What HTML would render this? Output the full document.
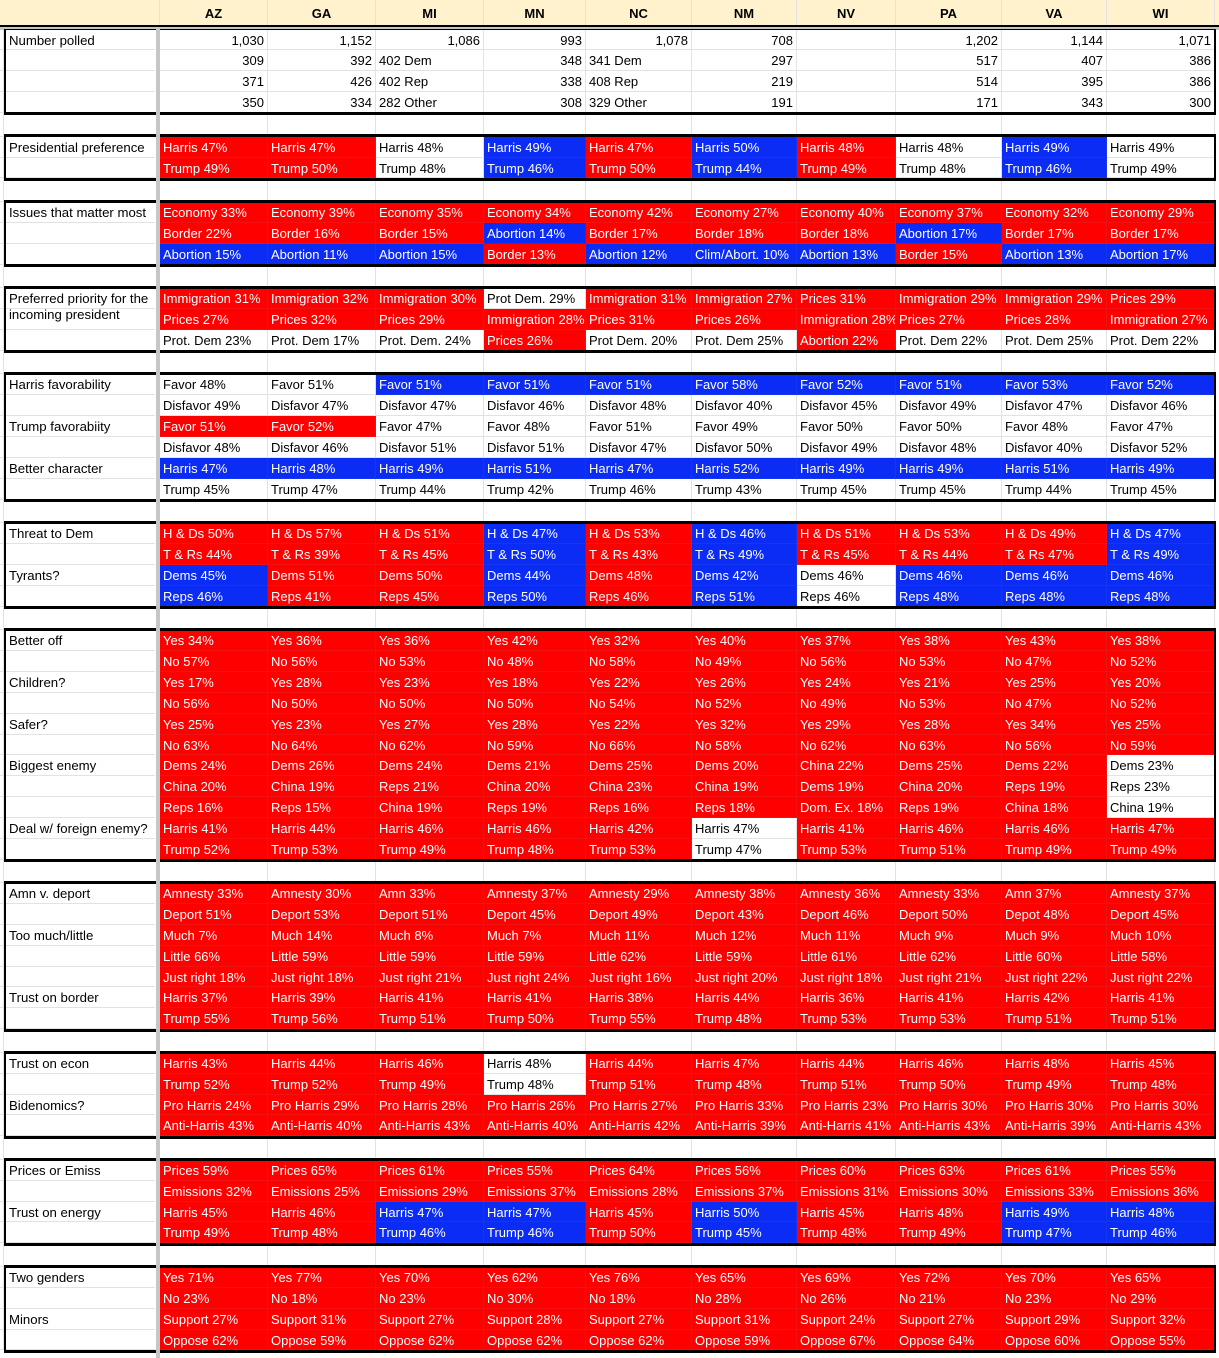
<!DOCTYPE html>
<html><head><meta charset="utf-8">
<style>
body{margin:0;width:1219px;height:1357px;overflow:hidden;background:#fff;font-family:"Liberation Sans",Arial,sans-serif;font-size:13px;color:#000;position:relative}
.row{display:flex;height:20.85px}
.bl{height:23.7px}
.row>c{display:block;box-sizing:border-box;flex:none;border-right:1px solid #e2e2e2;border-bottom:1px solid #e2e2e2;white-space:nowrap;overflow:hidden;padding-left:3px;line-height:21.5px;height:100%}
.row>c:nth-child(1){width:4px;padding:0}
.row>c:nth-child(2){width:151px;overflow:visible;border-right:none;padding-left:5px;font-size:13.2px}
.row>c:nth-child(3){width:5px;padding:0;border:none}
.row>c:nth-child(4),.row>c:nth-child(5),.row>c:nth-child(6),.row>c:nth-child(13){width:108px}
.row>c:nth-child(7){width:102px}
.row>c:nth-child(8),.row>c:nth-child(11){width:106px}
.row>c:nth-child(9),.row>c:nth-child(12){width:105px}
.row>c:nth-child(10){width:99px}
.row>c.r{background:#ff0000;color:#fff;border-color:#f21010}
.row>c.u{background:#0b2cf5;color:#fff;border-color:#1535f0}
.row>c.n{text-align:right;padding-right:3px}
.hd{display:flex;height:24.5px;background:#fff2cc}
.hd>c{display:block;box-sizing:border-box;flex:none;border-right:1px solid #e2e2e2;font-weight:bold;text-align:center;line-height:28px;font-size:13px}
.box{position:absolute;left:4px;width:1212px;box-sizing:border-box;border:3px solid #000;border-left-width:2.5px;border-right-width:2.5px}
</style></head><body>
<div class="hd"><c style="width:160px"></c><c style="width:108px">AZ</c><c style="width:108px">GA</c><c style="width:108px">MI</c><c style="width:102px">MN</c><c style="width:106px">NC</c><c style="width:105px">NM</c><c style="width:99px">NV</c><c style="width:106px">PA</c><c style="width:105px">VA</c><c style="width:108px">WI</c><c style="width:4px;border:none"></c></div>
<div style="height:2.5px;background:#000"></div>
<div style="height:2.6px;background:#c6c6c6"></div>

<div class="row"><c></c><c>Number polled</c><c></c><c class=n>1,030</c><c class=n>1,152</c><c class=n>1,086</c><c class=n>993</c><c class=n>1,078</c><c class=n>708</c><c></c><c class=n>1,202</c><c class=n>1,144</c><c class=n>1,071</c></div>
<div class="row"><c></c><c></c><c></c><c class=n>309</c><c class=n>392</c><c>402 Dem</c><c class=n>348</c><c>341 Dem</c><c class=n>297</c><c></c><c class=n>517</c><c class=n>407</c><c class=n>386</c></div>
<div class="row"><c></c><c></c><c></c><c class=n>371</c><c class=n>426</c><c>402 Rep</c><c class=n>338</c><c>408 Rep</c><c class=n>219</c><c></c><c class=n>514</c><c class=n>395</c><c class=n>386</c></div>
<div class="row"><c></c><c></c><c></c><c class=n>350</c><c class=n>334</c><c>282 Other</c><c class=n>308</c><c>329 Other</c><c class=n>191</c><c></c><c class=n>171</c><c class=n>343</c><c class=n>300</c></div>
<div class="row bl"><c></c><c></c><c></c><c></c><c></c><c></c><c></c><c></c><c></c><c></c><c></c><c></c><c></c></div>

<div class="row"><c></c><c>Presidential preference</c><c></c><c class=r>Harris 47%</c><c class=r>Harris 47%</c><c>Harris 48%</c><c class=u>Harris 49%</c><c class=r>Harris 47%</c><c class=u>Harris 50%</c><c class=r>Harris 48%</c><c>Harris 48%</c><c class=u>Harris 49%</c><c>Harris 49%</c></div>
<div class="row"><c></c><c></c><c></c><c class=r>Trump 49%</c><c class=r>Trump 50%</c><c>Trump 48%</c><c class=u>Trump 46%</c><c class=r>Trump 50%</c><c class=u>Trump 44%</c><c class=r>Trump 49%</c><c>Trump 48%</c><c class=u>Trump 46%</c><c>Trump 49%</c></div>
<div class="row bl"><c></c><c></c><c></c><c></c><c></c><c></c><c></c><c></c><c></c><c></c><c></c><c></c><c></c></div>

<div class="row"><c></c><c>Issues that matter most</c><c></c><c class=r>Economy 33%</c><c class=r>Economy 39%</c><c class=r>Economy 35%</c><c class=r>Economy 34%</c><c class=r>Economy 42%</c><c class=r>Economy 27%</c><c class=r>Economy 40%</c><c class=r>Economy 37%</c><c class=r>Economy 32%</c><c class=r>Economy 29%</c></div>
<div class="row"><c></c><c></c><c></c><c class=r>Border 22%</c><c class=r>Border 16%</c><c class=r>Border 15%</c><c class=u>Abortion 14%</c><c class=r>Border 17%</c><c class=r>Border 18%</c><c class=r>Border 18%</c><c class=u>Abortion 17%</c><c class=r>Border 17%</c><c class=r>Border 17%</c></div>
<div class="row"><c></c><c></c><c></c><c class=u>Abortion 15%</c><c class=u>Abortion 11%</c><c class=u>Abortion 15%</c><c class=r>Border 13%</c><c class=u>Abortion 12%</c><c class=u>Clim/Abort. 10%</c><c class=u>Abortion 13%</c><c class=r>Border 15%</c><c class=u>Abortion 13%</c><c class=u>Abortion 17%</c></div>
<div class="row bl"><c></c><c></c><c></c><c></c><c></c><c></c><c></c><c></c><c></c><c></c><c></c><c></c><c></c></div>

<div class="row"><c></c><c style="line-height:16px;white-space:normal;padding-top:3px">Preferred priority for the incoming president</c><c></c><c class=r>Immigration 31%</c><c class=r>Immigration 32%</c><c class=r>Immigration 30%</c><c>Prot Dem. 29%</c><c class=r>Immigration 31%</c><c class=r>Immigration 27%</c><c class=r>Prices 31%</c><c class=r>Immigration 29%</c><c class=r>Immigration 29%</c><c class=r>Prices 29%</c></div>
<div class="row"><c></c><c></c><c></c><c class=r>Prices 27%</c><c class=r>Prices 32%</c><c class=r>Prices 29%</c><c class=r>Immigration 28%</c><c class=r>Prices 31%</c><c class=r>Prices 26%</c><c class=r>Immigration 28%</c><c class=r>Prices 27%</c><c class=r>Prices 28%</c><c class=r>Immigration 27%</c></div>
<div class="row"><c></c><c></c><c></c><c>Prot. Dem 23%</c><c>Prot. Dem 17%</c><c>Prot. Dem. 24%</c><c class=r>Prices 26%</c><c>Prot Dem. 20%</c><c>Prot. Dem 25%</c><c class=r>Abortion 22%</c><c>Prot. Dem 22%</c><c>Prot. Dem 25%</c><c>Prot. Dem 22%</c></div>
<div class="row bl"><c></c><c></c><c></c><c></c><c></c><c></c><c></c><c></c><c></c><c></c><c></c><c></c><c></c></div>

<div class="row"><c></c><c>Harris favorability</c><c></c><c>Favor 48%</c><c>Favor 51%</c><c class=u>Favor 51%</c><c class=u>Favor 51%</c><c class=u>Favor 51%</c><c class=u>Favor 58%</c><c class=u>Favor 52%</c><c class=u>Favor 51%</c><c class=u>Favor 53%</c><c class=u>Favor 52%</c></div>
<div class="row"><c></c><c></c><c></c><c>Disfavor 49%</c><c>Disfavor 47%</c><c>Disfavor 47%</c><c>Disfavor 46%</c><c>Disfavor 48%</c><c>Disfavor 40%</c><c>Disfavor 45%</c><c>Disfavor 49%</c><c>Disfavor 47%</c><c>Disfavor 46%</c></div>
<div class="row"><c></c><c>Trump favorabiity</c><c></c><c class=r>Favor 51%</c><c class=r>Favor 52%</c><c>Favor 47%</c><c>Favor 48%</c><c>Favor 51%</c><c>Favor 49%</c><c>Favor 50%</c><c>Favor 50%</c><c>Favor 48%</c><c>Favor 47%</c></div>
<div class="row"><c></c><c></c><c></c><c>Disfavor 48%</c><c>Disfavor 46%</c><c>Disfavor 51%</c><c>Disfavor 51%</c><c>Disfavor 47%</c><c>Disfavor 50%</c><c>Disfavor 49%</c><c>Disfavor 48%</c><c>Disfavor 40%</c><c>Disfavor 52%</c></div>
<div class="row"><c></c><c>Better character</c><c></c><c class=u>Harris 47%</c><c class=u>Harris 48%</c><c class=u>Harris 49%</c><c class=u>Harris 51%</c><c class=u>Harris 47%</c><c class=u>Harris 52%</c><c class=u>Harris 49%</c><c class=u>Harris 49%</c><c class=u>Harris 51%</c><c class=u>Harris 49%</c></div>
<div class="row"><c></c><c></c><c></c><c>Trump 45%</c><c>Trump 47%</c><c>Trump 44%</c><c>Trump 42%</c><c>Trump 46%</c><c>Trump 43%</c><c>Trump 45%</c><c>Trump 45%</c><c>Trump 44%</c><c>Trump 45%</c></div>
<div class="row bl"><c></c><c></c><c></c><c></c><c></c><c></c><c></c><c></c><c></c><c></c><c></c><c></c><c></c></div>

<div class="row"><c></c><c>Threat to Dem</c><c></c><c class=r>H &amp; Ds 50%</c><c class=r>H &amp; Ds 57%</c><c class=r>H &amp; Ds 51%</c><c class=u>H &amp; Ds 47%</c><c class=r>H &amp; Ds 53%</c><c class=u>H &amp; Ds 46%</c><c class=r>H &amp; Ds 51%</c><c class=r>H &amp; Ds 53%</c><c class=r>H &amp; Ds 49%</c><c class=u>H &amp; Ds 47%</c></div>
<div class="row"><c></c><c></c><c></c><c class=r>T &amp; Rs 44%</c><c class=r>T &amp; Rs 39%</c><c class=r>T &amp; Rs 45%</c><c class=u>T &amp; Rs 50%</c><c class=r>T &amp; Rs 43%</c><c class=u>T &amp; Rs 49%</c><c class=r>T &amp; Rs 45%</c><c class=r>T &amp; Rs 44%</c><c class=r>T &amp; Rs 47%</c><c class=u>T &amp; Rs 49%</c></div>
<div class="row"><c></c><c>Tyrants?</c><c></c><c class=u>Dems 45%</c><c class=r>Dems 51%</c><c class=r>Dems 50%</c><c class=u>Dems 44%</c><c class=r>Dems 48%</c><c class=u>Dems 42%</c><c>Dems 46%</c><c class=u>Dems 46%</c><c class=u>Dems 46%</c><c class=u>Dems 46%</c></div>
<div class="row"><c></c><c></c><c></c><c class=u>Reps 46%</c><c class=r>Reps 41%</c><c class=r>Reps 45%</c><c class=u>Reps 50%</c><c class=r>Reps 46%</c><c class=u>Reps 51%</c><c>Reps 46%</c><c class=u>Reps 48%</c><c class=u>Reps 48%</c><c class=u>Reps 48%</c></div>
<div class="row bl"><c></c><c></c><c></c><c></c><c></c><c></c><c></c><c></c><c></c><c></c><c></c><c></c><c></c></div>

<div class="row"><c></c><c>Better off</c><c></c><c class=r>Yes 34%</c><c class=r>Yes 36%</c><c class=r>Yes 36%</c><c class=r>Yes 42%</c><c class=r>Yes 32%</c><c class=r>Yes 40%</c><c class=r>Yes 37%</c><c class=r>Yes 38%</c><c class=r>Yes 43%</c><c class=r>Yes 38%</c></div>
<div class="row"><c></c><c></c><c></c><c class=r>No 57%</c><c class=r>No 56%</c><c class=r>No 53%</c><c class=r>No 48%</c><c class=r>No 58%</c><c class=r>No 49%</c><c class=r>No 56%</c><c class=r>No 53%</c><c class=r>No 47%</c><c class=r>No 52%</c></div>
<div class="row"><c></c><c>Children?</c><c></c><c class=r>Yes 17%</c><c class=r>Yes 28%</c><c class=r>Yes 23%</c><c class=r>Yes 18%</c><c class=r>Yes 22%</c><c class=r>Yes 26%</c><c class=r>Yes 24%</c><c class=r>Yes 21%</c><c class=r>Yes 25%</c><c class=r>Yes 20%</c></div>
<div class="row"><c></c><c></c><c></c><c class=r>No 56%</c><c class=r>No 50%</c><c class=r>No 50%</c><c class=r>No 50%</c><c class=r>No 54%</c><c class=r>No 52%</c><c class=r>No 49%</c><c class=r>No 53%</c><c class=r>No 47%</c><c class=r>No 52%</c></div>
<div class="row"><c></c><c>Safer?</c><c></c><c class=r>Yes 25%</c><c class=r>Yes 23%</c><c class=r>Yes 27%</c><c class=r>Yes 28%</c><c class=r>Yes 22%</c><c class=r>Yes 32%</c><c class=r>Yes 29%</c><c class=r>Yes 28%</c><c class=r>Yes 34%</c><c class=r>Yes 25%</c></div>
<div class="row"><c></c><c></c><c></c><c class=r>No 63%</c><c class=r>No 64%</c><c class=r>No 62%</c><c class=r>No 59%</c><c class=r>No 66%</c><c class=r>No 58%</c><c class=r>No 62%</c><c class=r>No 63%</c><c class=r>No 56%</c><c class=r>No 59%</c></div>
<div class="row"><c></c><c>Biggest enemy</c><c></c><c class=r>Dems 24%</c><c class=r>Dems 26%</c><c class=r>Dems 24%</c><c class=r>Dems 21%</c><c class=r>Dems 25%</c><c class=r>Dems 20%</c><c class=r>China 22%</c><c class=r>Dems 25%</c><c class=r>Dems 22%</c><c>Dems 23%</c></div>
<div class="row"><c></c><c></c><c></c><c class=r>China 20%</c><c class=r>China 19%</c><c class=r>Reps 21%</c><c class=r>China 20%</c><c class=r>China 23%</c><c class=r>China 19%</c><c class=r>Dems 19%</c><c class=r>China 20%</c><c class=r>Reps 19%</c><c>Reps 23%</c></div>
<div class="row"><c></c><c></c><c></c><c class=r>Reps 16%</c><c class=r>Reps 15%</c><c class=r>China 19%</c><c class=r>Reps 19%</c><c class=r>Reps 16%</c><c class=r>Reps 18%</c><c class=r>Dom. Ex. 18%</c><c class=r>Reps 19%</c><c class=r>China 18%</c><c>China 19%</c></div>
<div class="row"><c></c><c>Deal w/ foreign enemy?</c><c></c><c class=r>Harris 41%</c><c class=r>Harris 44%</c><c class=r>Harris 46%</c><c class=r>Harris 46%</c><c class=r>Harris 42%</c><c>Harris 47%</c><c class=r>Harris 41%</c><c class=r>Harris 46%</c><c class=r>Harris 46%</c><c class=r>Harris 47%</c></div>
<div class="row"><c></c><c></c><c></c><c class=r>Trump 52%</c><c class=r>Trump 53%</c><c class=r>Trump 49%</c><c class=r>Trump 48%</c><c class=r>Trump 53%</c><c>Trump 47%</c><c class=r>Trump 53%</c><c class=r>Trump 51%</c><c class=r>Trump 49%</c><c class=r>Trump 49%</c></div>
<div class="row bl"><c></c><c></c><c></c><c></c><c></c><c></c><c></c><c></c><c></c><c></c><c></c><c></c><c></c></div>

<div class="row"><c></c><c>Amn v. deport</c><c></c><c class=r>Amnesty 33%</c><c class=r>Amnesty 30%</c><c class=r>Amn 33%</c><c class=r>Amnesty 37%</c><c class=r>Amnesty 29%</c><c class=r>Amnesty 38%</c><c class=r>Amnesty 36%</c><c class=r>Amnesty 33%</c><c class=r>Amn 37%</c><c class=r>Amnesty 37%</c></div>
<div class="row"><c></c><c></c><c></c><c class=r>Deport 51%</c><c class=r>Deport 53%</c><c class=r>Deport 51%</c><c class=r>Deport 45%</c><c class=r>Deport 49%</c><c class=r>Deport 43%</c><c class=r>Deport 46%</c><c class=r>Deport 50%</c><c class=r>Depot 48%</c><c class=r>Deport 45%</c></div>
<div class="row"><c></c><c>Too much/little</c><c></c><c class=r>Much 7%</c><c class=r>Much 14%</c><c class=r>Much 8%</c><c class=r>Much 7%</c><c class=r>Much 11%</c><c class=r>Much 12%</c><c class=r>Much 11%</c><c class=r>Much 9%</c><c class=r>Much 9%</c><c class=r>Much 10%</c></div>
<div class="row"><c></c><c></c><c></c><c class=r>Little 66%</c><c class=r>Little 59%</c><c class=r>Little 59%</c><c class=r>Little 59%</c><c class=r>Little 62%</c><c class=r>Little 59%</c><c class=r>Little 61%</c><c class=r>Little 62%</c><c class=r>Little 60%</c><c class=r>Little 58%</c></div>
<div class="row"><c></c><c></c><c></c><c class=r>Just right 18%</c><c class=r>Just right 18%</c><c class=r>Just right 21%</c><c class=r>Just right 24%</c><c class=r>Just right 16%</c><c class=r>Just right 20%</c><c class=r>Just right 18%</c><c class=r>Just right 21%</c><c class=r>Just right 22%</c><c class=r>Just right 22%</c></div>
<div class="row"><c></c><c>Trust on border</c><c></c><c class=r>Harris 37%</c><c class=r>Harris 39%</c><c class=r>Harris 41%</c><c class=r>Harris 41%</c><c class=r>Harris 38%</c><c class=r>Harris 44%</c><c class=r>Harris 36%</c><c class=r>Harris 41%</c><c class=r>Harris 42%</c><c class=r>Harris 41%</c></div>
<div class="row"><c></c><c></c><c></c><c class=r>Trump 55%</c><c class=r>Trump 56%</c><c class=r>Trump 51%</c><c class=r>Trump 50%</c><c class=r>Trump 55%</c><c class=r>Trump 48%</c><c class=r>Trump 53%</c><c class=r>Trump 53%</c><c class=r>Trump 51%</c><c class=r>Trump 51%</c></div>
<div class="row bl"><c></c><c></c><c></c><c></c><c></c><c></c><c></c><c></c><c></c><c></c><c></c><c></c><c></c></div>

<div class="row"><c></c><c>Trust on econ</c><c></c><c class=r>Harris 43%</c><c class=r>Harris 44%</c><c class=r>Harris 46%</c><c>Harris 48%</c><c class=r>Harris 44%</c><c class=r>Harris 47%</c><c class=r>Harris 44%</c><c class=r>Harris 46%</c><c class=r>Harris 48%</c><c class=r>Harris 45%</c></div>
<div class="row"><c></c><c></c><c></c><c class=r>Trump 52%</c><c class=r>Trump 52%</c><c class=r>Trump 49%</c><c>Trump 48%</c><c class=r>Trump 51%</c><c class=r>Trump 48%</c><c class=r>Trump 51%</c><c class=r>Trump 50%</c><c class=r>Trump 49%</c><c class=r>Trump 48%</c></div>
<div class="row"><c></c><c>Bidenomics?</c><c></c><c class=r>Pro Harris 24%</c><c class=r>Pro Harris 29%</c><c class=r>Pro Harris 28%</c><c class=r>Pro Harris 26%</c><c class=r>Pro Harris 27%</c><c class=r>Pro Harris 33%</c><c class=r>Pro Harris 23%</c><c class=r>Pro Harris 30%</c><c class=r>Pro Harris 30%</c><c class=r>Pro Harris 30%</c></div>
<div class="row"><c></c><c></c><c></c><c class=r>Anti-Harris 43%</c><c class=r>Anti-Harris 40%</c><c class=r>Anti-Harris 43%</c><c class=r>Anti-Harris 40%</c><c class=r>Anti-Harris 42%</c><c class=r>Anti-Harris 39%</c><c class=r>Anti-Harris 41%</c><c class=r>Anti-Harris 43%</c><c class=r>Anti-Harris 39%</c><c class=r>Anti-Harris 43%</c></div>
<div class="row bl"><c></c><c></c><c></c><c></c><c></c><c></c><c></c><c></c><c></c><c></c><c></c><c></c><c></c></div>

<div class="row"><c></c><c>Prices or Emiss</c><c></c><c class=r>Prices 59%</c><c class=r>Prices 65%</c><c class=r>Prices 61%</c><c class=r>Prices 55%</c><c class=r>Prices 64%</c><c class=r>Prices 56%</c><c class=r>Prices 60%</c><c class=r>Prices 63%</c><c class=r>Prices 61%</c><c class=r>Prices 55%</c></div>
<div class="row"><c></c><c></c><c></c><c class=r>Emissions 32%</c><c class=r>Emissions 25%</c><c class=r>Emissions 29%</c><c class=r>Emissions 37%</c><c class=r>Emissions 28%</c><c class=r>Emissions 37%</c><c class=r>Emissions 31%</c><c class=r>Emissions 30%</c><c class=r>Emissions 33%</c><c class=r>Emissions 36%</c></div>
<div class="row"><c></c><c>Trust on energy</c><c></c><c class=r>Harris 45%</c><c class=r>Harris 46%</c><c class=u>Harris 47%</c><c class=u>Harris 47%</c><c class=r>Harris 45%</c><c class=u>Harris 50%</c><c class=r>Harris 45%</c><c class=r>Harris 48%</c><c class=u>Harris 49%</c><c class=u>Harris 48%</c></div>
<div class="row"><c></c><c></c><c></c><c class=r>Trump 49%</c><c class=r>Trump 48%</c><c class=u>Trump 46%</c><c class=u>Trump 46%</c><c class=r>Trump 50%</c><c class=u>Trump 45%</c><c class=r>Trump 48%</c><c class=r>Trump 49%</c><c class=u>Trump 47%</c><c class=u>Trump 46%</c></div>
<div class="row bl"><c></c><c></c><c></c><c></c><c></c><c></c><c></c><c></c><c></c><c></c><c></c><c></c><c></c></div>

<div class="row"><c></c><c>Two genders</c><c></c><c class=r>Yes 71%</c><c class=r>Yes 77%</c><c class=r>Yes 70%</c><c class=r>Yes 62%</c><c class=r>Yes 76%</c><c class=r>Yes 65%</c><c class=r>Yes 69%</c><c class=r>Yes 72%</c><c class=r>Yes 70%</c><c class=r>Yes 65%</c></div>
<div class="row"><c></c><c></c><c></c><c class=r>No 23%</c><c class=r>No 18%</c><c class=r>No 23%</c><c class=r>No 30%</c><c class=r>No 18%</c><c class=r>No 28%</c><c class=r>No 26%</c><c class=r>No 21%</c><c class=r>No 23%</c><c class=r>No 29%</c></div>
<div class="row"><c></c><c>Minors</c><c></c><c class=r>Support 27%</c><c class=r>Support 31%</c><c class=r>Support 27%</c><c class=r>Support 28%</c><c class=r>Support 27%</c><c class=r>Support 31%</c><c class=r>Support 24%</c><c class=r>Support 27%</c><c class=r>Support 29%</c><c class=r>Support 32%</c></div>
<div class="row"><c></c><c></c><c></c><c class=r>Oppose 62%</c><c class=r>Oppose 59%</c><c class=r>Oppose 62%</c><c class=r>Oppose 62%</c><c class=r>Oppose 62%</c><c class=r>Oppose 59%</c><c class=r>Oppose 67%</c><c class=r>Oppose 64%</c><c class=r>Oppose 60%</c><c class=r>Oppose 55%</c></div>

<div class="box" style="top:27.1px;height:88.4px"></div>
<div class="box" style="top:134.2px;height:46.7px"></div>
<div class="box" style="top:199.6px;height:67.5px"></div>
<div class="box" style="top:285.9px;height:67.5px"></div>
<div class="box" style="top:372.1px;height:130.1px"></div>
<div class="box" style="top:520.9px;height:88.4px"></div>
<div class="box" style="top:628px;height:234.4px"></div>
<div class="box" style="top:881px;height:151px"></div>
<div class="box" style="top:1050.7px;height:88.4px"></div>
<div class="box" style="top:1157.8px;height:88.4px"></div>
<div class="box" style="top:1264.9px;height:88.4px"></div>
<div style="position:absolute;left:155.5px;top:26.5px;width:4.5px;height:1331px;background:#c6c6c6"></div>
<div style="position:absolute;left:0;top:26.5px;width:1219px;height:2.6px;background:#c6c6c6"></div>
</body></html>
